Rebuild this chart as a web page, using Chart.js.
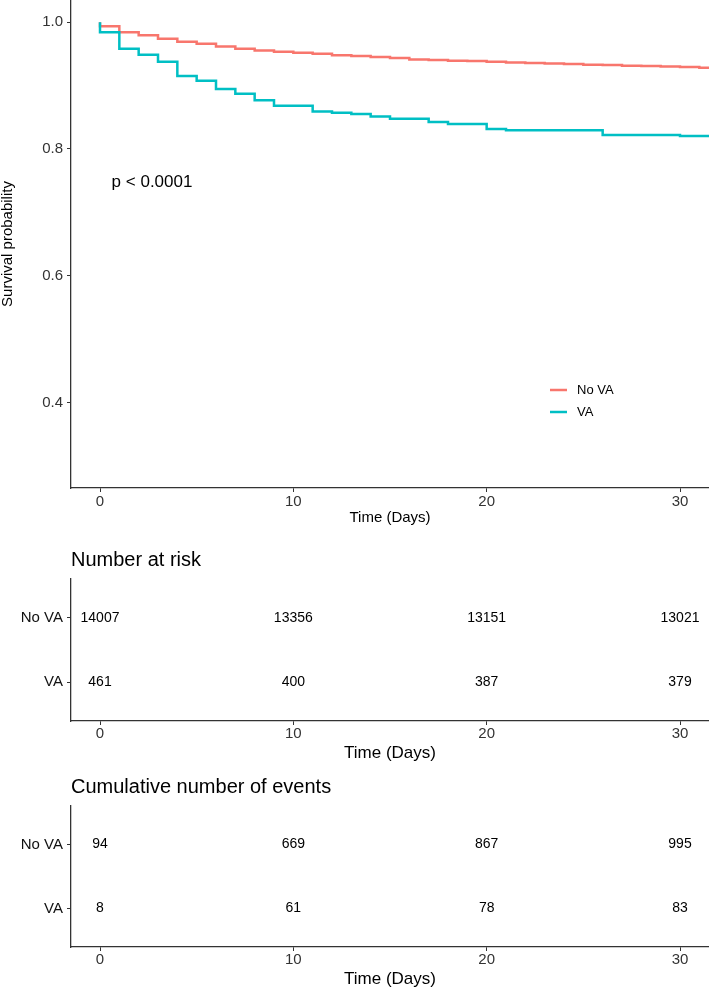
<!DOCTYPE html>
<html lang="en">
<head>
<meta charset="UTF-8">
<title>Survival by VA</title>
<style>
    body {
        margin: 0;
        background: #fff;
        font-family: "Liberation Sans", Arial, sans-serif;
    }
    #page {
        position: relative;
        width: 709px;
        height: 990px;
    }
    canvas {
        position: absolute;
        left: 0;
    }
    #surv-plot { top: 0; }
    #risk-plot { top: 530px; }
    #events-plot { top: 764px; }
</style>
</head>
<body>
<div id="page">
    <canvas id="surv-plot" width="709" height="527"></canvas>
    <canvas id="risk-plot" width="709" height="234"></canvas>
    <canvas id="events-plot" width="709" height="226"></canvas>
</div>
<script src="https://cdn.jsdelivr.net/npm/chart.js"></script>
<script>
    const timeTicks = [0, 10, 20, 30];
    const survTicks = [0.4, 0.6, 0.8, 1.0];
    const groups = ['No VA', 'VA'];
    const groupColors = ['#F8766D', '#00BFC4'];
    const pValueText = 'p < 0.0001';

    // Kaplan-Meier steps (time in days, survival)
    const noVaTime = [0, 0, 1, 2, 3, 4, 5, 6, 7, 8, 9, 10, 11, 12, 13, 14, 15, 16, 17, 18, 19, 20, 21, 22, 23, 24, 25, 26, 27, 28, 29, 30, 31, 31.5];
    const noVaSurv = [1, 0.9937, 0.9843, 0.9795, 0.9737, 0.969, 0.9658, 0.9616, 0.958, 0.9553, 0.9532, 0.9517, 0.9501, 0.948, 0.9465, 0.9449, 0.9433, 0.9411, 0.9402, 0.9391, 0.9386, 0.9375, 0.9364, 0.9354, 0.9348, 0.9339, 0.9328, 0.9323, 0.9312, 0.9307, 0.9301, 0.9291, 0.928, 0.928];
    const vaTime = [0, 0, 1, 2, 3, 4, 5, 6, 7, 8, 9, 11, 12, 13, 14, 15, 17, 18, 20, 21, 26, 30, 31.5];
    const vaSurv = [1, 0.984, 0.958, 0.9485, 0.9375, 0.915, 0.9076, 0.8945, 0.887, 0.877, 0.868, 0.8592, 0.8572, 0.855, 0.8513, 0.8477, 0.8425, 0.8394, 0.8315, 0.8293, 0.822, 0.8205, 0.8205];

    const riskNoVa = [14007, 13356, 13151, 13021];
    const riskVa = [461, 400, 387, 379];
    const eventsNoVa = [94, 669, 867, 995];
    const eventsVa = [8, 61, 78, 83];

    const FONT = '"Liberation Sans", Arial, sans-serif';
    const AXIS = '#333';

    function toPoints(xs, ys) {
        return xs.map((x, i) => ({ x: x, y: ys[i] }));
    }

    function xAxis(titleSize, tickPad, height) {
        return {
            type: 'linear',
            min: -1.5,
            max: 31.5,
            afterBuildTicks: s => { s.ticks = timeTicks.map(v => ({ value: v })); },
            afterFit: s => { s.height = height; s.paddingLeft = 0; s.paddingRight = 0; },
            ticks: { color: AXIS, font: { family: FONT, size: 15 }, padding: tickPad },
            grid: { drawOnChartArea: false, drawTicks: true, tickLength: 4, color: AXIS },
            border: { color: AXIS, width: 1.3 },
            title: { display: true, text: 'Time (Days)', color: '#000', padding: 0,
                     font: { family: FONT, size: titleSize } }
        };
    }

    // p-value and legend are drawn inside the survival plot
    const survExtras = {
        id: 'survExtras',
        afterDatasetsDraw(chart) {
            const { ctx, chartArea, scales: { x, y } } = chart;
            ctx.save();
            ctx.font = '17px ' + FONT;
            ctx.fillStyle = '#000';
            ctx.textAlign = 'left';
            ctx.textBaseline = 'middle';
            ctx.fillText(pValueText, x.getPixelForValue(0.6), y.getPixelForValue(0.747));

            ctx.font = '13px ' + FONT;
            const lx = chartArea.left + 479;
            groups.forEach((g, i) => {
                const ly = 390 + i * 22;
                ctx.strokeStyle = groupColors[i];
                ctx.lineWidth = 2.5;
                ctx.beginPath();
                ctx.moveTo(lx, ly);
                ctx.lineTo(lx + 17, ly);
                ctx.stroke();
                ctx.fillText(g, lx + 27, ly);
            });
            ctx.restore();
        }
    };

    new Chart(document.getElementById('surv-plot'), {
        type: 'line',
        data: {
            datasets: [{
                label: groups[0],
                data: toPoints(noVaTime, noVaSurv),
                borderColor: groupColors[0],
                borderWidth: 2.5,
                stepped: 'before',
                pointRadius: 0,
                order: 1
            }, {
                label: groups[1],
                data: toPoints(vaTime, vaSurv),
                borderColor: groupColors[1],
                borderWidth: 2.5,
                stepped: 'before',
                pointRadius: 0,
                order: 0
            }]
        },
        options: {
            responsive: false,
            animation: false,
            layout: { padding: 0 },
            plugins: { legend: { display: false }, tooltip: { enabled: false } },
            scales: {
                x: xAxis(15, 1, 39),
                y: {
                    min: 0.265,
                    max: 1.035,
                    afterBuildTicks: s => { s.ticks = survTicks.map(v => ({ value: v })); },
                    afterFit: s => { s.width = 71; s.paddingTop = 0; s.paddingBottom = 0; },
                    ticks: { color: AXIS, font: { family: FONT, size: 15 }, padding: 4,
                             callback: v => v.toFixed(1) },
                    grid: { drawOnChartArea: false, drawTicks: true, tickLength: 4, color: AXIS },
                    border: { color: AXIS, width: 1.3 },
                    title: { display: true, text: 'Survival probability', color: '#000', padding: 0,
                             font: { family: FONT, size: 15, lineHeight: 1 } }
                }
            }
        },
        plugins: [survExtras]
    });

    // numbers in the tables sit on invisible points, one dataset per row
    const tableText = {
        id: 'tableText',
        afterDatasetsDraw(chart) {
            const { ctx } = chart;
            ctx.save();
            ctx.font = '14px ' + FONT;
            ctx.fillStyle = '#000';
            ctx.textAlign = 'center';
            ctx.textBaseline = 'middle';
            chart.data.datasets.forEach((ds, d) => {
                chart.getDatasetMeta(d).data.forEach((pt, i) => {
                    ctx.fillText(String(ds.data[i].v), pt.x, pt.y);
                });
            });
            ctx.restore();
        }
    };

    function tableChart(id, title, padTop, noVaVals, vaVals) {
        return new Chart(document.getElementById(id), {
            type: 'scatter',
            data: {
                datasets: [
                    { data: timeTicks.map((t, i) => ({ x: t, y: 2, v: noVaVals[i] })), pointRadius: 0 },
                    { data: timeTicks.map((t, i) => ({ x: t, y: 1, v: vaVals[i] })), pointRadius: 0 }
                ]
            },
            options: {
                responsive: false,
                animation: false,
                layout: { padding: { top: padTop, left: 0, right: 0, bottom: 0 } },
                plugins: {
                    legend: { display: false },
                    tooltip: { enabled: false },
                    title: {
                        display: true,
                        text: title,
                        align: 'start',
                        fullSize: false,
                        color: '#000',
                        font: { family: FONT, size: 20, weight: 'normal', lineHeight: 1.2 },
                        padding: { top: 0, bottom: 7 }
                    }
                },
                scales: {
                    x: xAxis(17, 0, 43),
                    y: {
                        min: 0.4,
                        max: 2.6,
                        afterBuildTicks: s => { s.ticks = [{ value: 1 }, { value: 2 }]; },
                        afterFit: s => { s.width = 71; s.paddingTop = 0; s.paddingBottom = 0; },
                        ticks: { color: '#111', font: { family: FONT, size: 15 }, padding: 4,
                                 callback: v => (v === 2 ? groups[0] : groups[1]) },
                        grid: { drawOnChartArea: false, drawTicks: true, tickLength: 4, color: AXIS },
                        border: { color: AXIS, width: 1.3 }
                    }
                }
            },
            plugins: [tableText]
        });
    }

    tableChart('risk-plot', 'Number at risk', 18, riskNoVa, riskVa);
    tableChart('events-plot', 'Cumulative number of events', 11, eventsNoVa, eventsVa);
</script>
</body>
</html>
